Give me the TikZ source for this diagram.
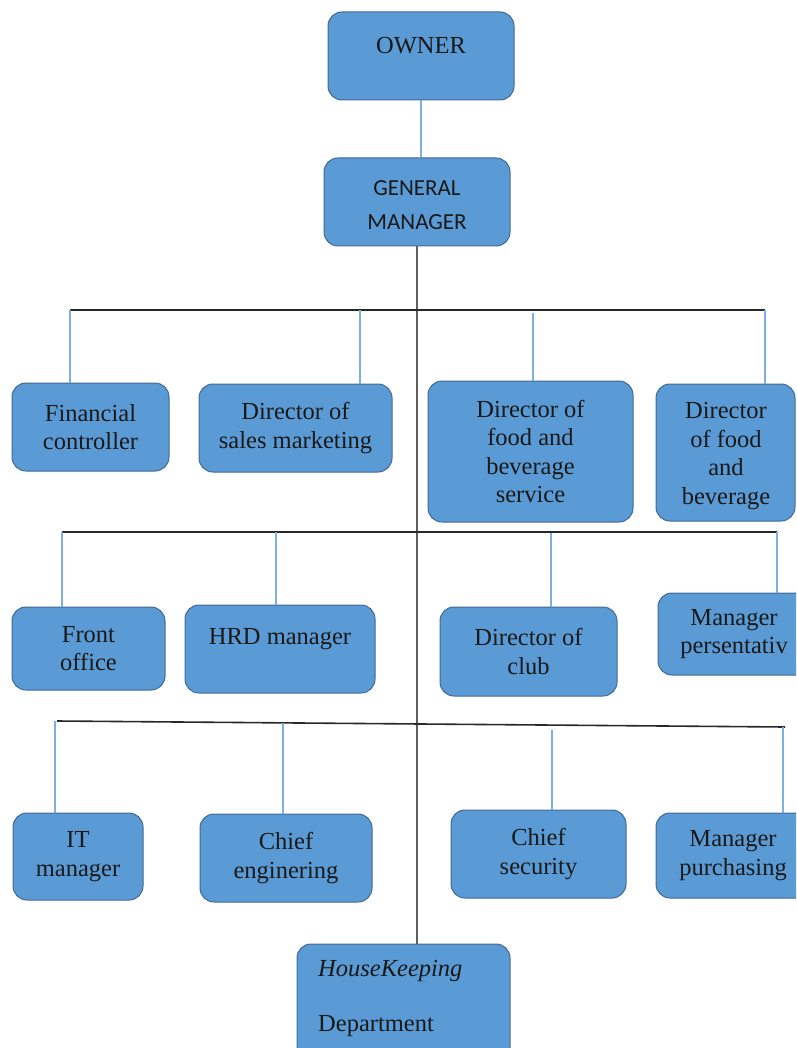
\documentclass[tikz,border=0pt]{standalone}
\usepackage{fontspec}
\setmainfont{Liberation Serif}
\newfontfamily\gmfont{Carlito}
\definecolor{boxfill}{RGB}{91,155,213}
\definecolor{boxline}{RGB}{65,105,150}
\definecolor{conn}{RGB}{125,175,225}
\definecolor{bus}{RGB}{40,40,40}
\definecolor{trunk}{RGB}{95,95,95}
\tikzset{
  orgbox/.style={draw=boxline, fill=boxfill, line width=1pt, rounded corners=14pt,
    align=center, inner sep=0pt, font=\fontsize{24.5}{28.5}\selectfont, text=black!90},
  lbl/.style={inner sep=0pt, align=center, font=\fontsize{24.5}{28.5}\selectfont, text=black!90},
  drop/.style={draw=conn, line width=1.5pt},
  busline/.style={draw=bus, line width=1.6pt},
  trunkline/.style={draw=trunk, line width=2pt},
}
\begin{document}
\begin{tikzpicture}[x=1pt,y=-1pt]
\useasboundingbox (0,0) rectangle (796,1048);
\clip (0,0) rectangle (796,1048);
% boxes
\node[orgbox, minimum width=186pt, minimum height=88pt] (owner) at (421,56) {};
\node[lbl] (ownert) at (421,46) {OWNER};
\node[orgbox, minimum width=186pt, minimum height=88pt] (gm) at (417,202) {};
\node[lbl, font=\gmfont\fontsize{23}{34}\selectfont] (gmt) at (417,205) {GENERAL\\MANAGER};
\node[orgbox, minimum width=157pt, minimum height=88pt] (fc) at (90.5,427) {Financial\\controller};
\node[orgbox, minimum width=193pt, minimum height=88pt] (dsm) at (295.5,428) {Director of\\sales marketing};
\node[orgbox, minimum width=205pt, minimum height=141pt] (dfbs) at (530.5,451.5) {Director of\\food and\\beverage\\service};
\node[orgbox, minimum width=139pt, minimum height=137pt] (dfb) at (725.5,452.5) {};
\node[lbl] (dfbt) at (726,456) {Director\\of food\\and\\beverage};
\node[orgbox, minimum width=153pt, minimum height=83pt] (fo) at (88.5,648.5) {Front\\office};
\node[orgbox, minimum width=190pt, minimum height=88pt] (hrd) at (280,649) {};
\node[lbl] (hrdt) at (280,639) {HRD manager};
\node[orgbox, minimum width=177pt, minimum height=89pt] (dc) at (528.5,651.5) {Director of\\club};
\node[orgbox, minimum width=152pt, minimum height=82pt] (mp) at (734,634) {Manager\\persentativ};
\node[orgbox, minimum width=130pt, minimum height=87pt] (it) at (78,856.5) {IT\\manager};
\node[orgbox, minimum width=172pt, minimum height=88pt] (ce) at (286,858) {Chief\\enginering};
\node[orgbox, minimum width=175pt, minimum height=88pt] (cs) at (538.5,854) {Chief\\security};
\node[orgbox, minimum width=154pt, minimum height=85pt] (mpu) at (733,855.5) {Manager\\purchasing};
\node[orgbox, minimum width=213pt, minimum height=126pt] (hk) at (403.5,1007) {};
\node[lbl, anchor=base west] (hkt1) at (318,976) {\itshape HouseKeeping};
\node[lbl, anchor=base west] (hkt2) at (318,1031) {Department};
% bus coordinates
\coordinate (b1l) at (70,310);
\coordinate (b1r) at (765,310);
\coordinate (b1b) at (360,310);
\coordinate (b1c) at (533,313);
\coordinate (b2l) at (62,532);
\coordinate (b2r) at (777,532);
\coordinate (b2b) at (276,532);
\coordinate (b2c) at (551,533);
\coordinate (b3l) at (57,721);
\coordinate (b3r) at (785,727);
\coordinate (b3a) at (55,721);
\coordinate (b3b) at (283,723);
\coordinate (b3c) at (552,730);
\coordinate (b3d) at (783,727);
% connectors
\draw[drop] (owner.south) -- (owner.south |- gm.north);
\draw[trunkline] (gm.south) -- (gm.south |- hk.north);
\draw[busline] (b1l) -- (b1r);
\draw[busline] (b2l) -- (b2r);
\draw[busline] (b3l) -- (b3r);
\draw[drop] (b1l) -- (b1l |- fc.north);
\draw[drop] (b1b) -- (b1b |- dsm.north);
\draw[drop] (b1c) -- (b1c |- dfbs.north);
\draw[drop] (b1r) -- (b1r |- dfb.north);
\draw[drop] (b2l) -- (b2l |- fo.north);
\draw[drop] (b2b) -- (b2b |- hrd.north);
\draw[drop] (b2c) -- (b2c |- dc.north);
\draw[drop] (b2r) -- (b2r |- mp.north);
\draw[drop] (b3a) -- (b3a |- it.north);
\draw[drop] (b3b) -- (b3b |- ce.north);
\draw[drop] (b3c) -- (b3c |- cs.north);
\draw[drop] (b3d) -- (b3d |- mpu.north);
\end{tikzpicture}
\end{document}
